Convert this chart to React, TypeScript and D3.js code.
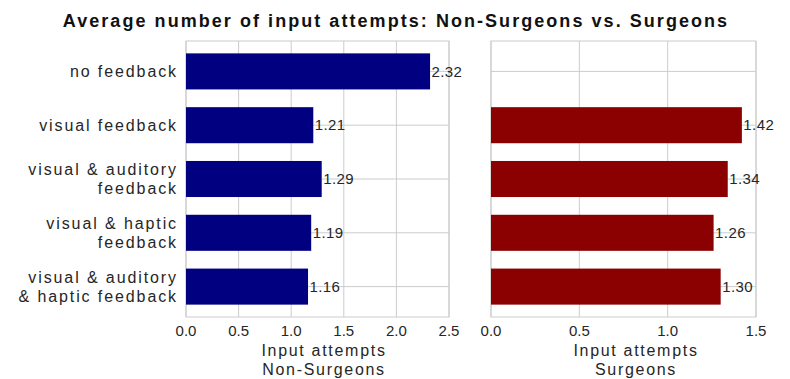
import React from "react";
import * as d3 from "d3";

const categories: string[][] = [
  ["no feedback"],
  ["visual feedback"],
  ["visual & auditory", "feedback"],
  ["visual & haptic", "feedback"],
  ["visual & auditory", "& haptic feedback"],
];
const nonSurgeons: (number | null)[] = [2.32, 1.21, 1.29, 1.19, 1.16];
const surgeons: (number | null)[] = [null, 1.42, 1.34, 1.26, 1.3];
const leftTicks = [0, 0.5, 1.0, 1.5, 2.0, 2.5];
const rightTicks = [0, 0.5, 1.0, 1.5];
const title = "Average number of input attempts: Non-Surgeons vs. Surgeons";

const W = 790, H = 379;
const top = 41, bottom = 317;
const font = "Liberation Sans, Arial, sans-serif";
const grid = "#cccccc";
const ink = "#262626";

function Panel({ x0, x1, max, ticks, values, color, label, labelShift, showY }: any) {
  const x = d3.scaleLinear().domain([0, max]).range([x0, x1]);
  const y = d3
    .scaleBand<number>()
    .domain(d3.range(categories.length))
    .range([top, bottom])
    .paddingInner(0.33)
    .paddingOuter(0.23);
  const bw = y.bandwidth();
  const cy = (i: number) => (y(i) as number) + bw / 2;
  return (
    <g>
      {ticks.map((t: number) => (
        <line key={"v" + t} x1={x(t)} x2={x(t)} y1={top} y2={bottom} stroke={grid} strokeWidth={1} />
      ))}
      {categories.map((_, i) => (
        <line key={"h" + i} x1={x0} x2={x1} y1={cy(i)} y2={cy(i)} stroke={grid} strokeWidth={1} />
      ))}
      <rect x={x0} y={top} width={x1 - x0} height={bottom - top} fill="none" stroke={grid} strokeWidth={1} />
      {values.map((v: number | null, i: number) =>
        v == null ? null : (
          <g key={"b" + i}>
            <rect x={x(0)} y={y(i)} width={x(v) - x(0)} height={bw} fill={color} />
            <text x={x(v) + 1.5} y={cy(i)} dy="0.35em" fontSize={15} fill={ink} fontFamily={font} letterSpacing={0.4}>
              {v.toFixed(2)}
            </text>
          </g>
        )
      )}
      {ticks.map((t: number) => (
        <text key={"t" + t} x={x(t)} y={bottom + 19} textAnchor="middle" fontSize={15} fill={ink} fontFamily={font}>
          {t.toFixed(1)}
        </text>
      ))}
      {label.map((l: string, k: number) => (
        <text key={"l" + k} x={(x0 + x1) / 2 + labelShift} y={bottom + 39 + k * 19} textAnchor="middle" fontSize={16} fill={ink} fontFamily={font} letterSpacing={1.7}>
          {l}
        </text>
      ))}
      {showY &&
        categories.map((lines, i) => (
          <text key={"y" + i} x={x0 - 8} y={cy(i)} textAnchor="end" fontSize={16} fill={ink} fontFamily={font} letterSpacing={1.9}>
            {lines.map((ln, k) => (
              <tspan key={k} x={x0 - 8} dy={k === 0 ? (0.35 - (lines.length - 1) * 0.6) + "em" : "1.2em"}>
                {ln}
              </tspan>
            ))}
          </text>
        ))}
    </g>
  );
}

export default function App() {
  return (
    <svg width={W} height={H} style={{ display: "block", position: "absolute", left: 0, top: 0 }}>
      <rect width={W} height={H} fill="white" />
      <text x={W / 2 + 1} y={27} textAnchor="middle" fontSize={18} fontWeight="bold" fontFamily={font} letterSpacing={2.05} fill="#111">
        {title}
      </text>
      <Panel x0={186} x1={449} max={2.5} ticks={leftTicks} values={nonSurgeons} color="#000080" label={["Input attempts", "Non-Surgeons"]} labelShift={6.5} showY />
      <Panel x0={491} x1={756} max={1.5} ticks={rightTicks} values={surgeons} color="#8b0000" label={["Input attempts", "Surgeons"]} labelShift={12.5} showY={false} />
    </svg>
  );
}
